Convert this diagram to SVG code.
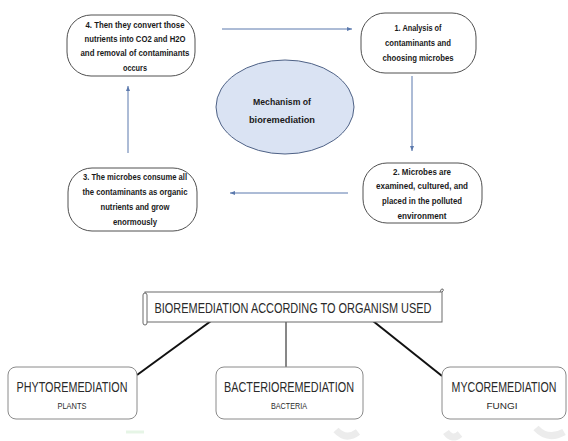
<svg xmlns="http://www.w3.org/2000/svg" width="568" height="441" viewBox="0 0 568 441">
<defs>
<style>
.step{fill:#fff;stroke:#505050;stroke-width:1}
.st{font-family:"Liberation Sans",Arial,sans-serif;font-weight:bold;font-size:9.5px;fill:#1a1a1a;text-anchor:middle}
.flow{stroke:#5b79ad;stroke-width:1;fill:none}
.box{fill:#fff;stroke:#8a8a8a;stroke-width:1}
.bt{font-family:"Liberation Sans",Arial,sans-serif;font-size:14px;fill:#2a2a2a;text-anchor:middle}
.bs{font-family:"Liberation Sans",Arial,sans-serif;font-size:8.5px;fill:#2a2a2a;text-anchor:middle}
.tree{stroke:#111;fill:none}
.wm{stroke:#ececec;stroke-width:7;fill:none}
</style>
<marker id="ah" viewBox="0 0 10 10" refX="10" refY="5" markerWidth="5" markerHeight="5" orient="auto" markerUnits="userSpaceOnUse">
<path d="M0,1 L10,5 L0,9 Z" fill="#5b79ad"/>
</marker>
</defs>
<rect width="568" height="441" fill="#fff"/>

<g id="watermark">
<path class="wm" d="M336,430 Q346,441 358,432"/>
<path class="wm" d="M446,432 Q452,441 460,434"/>
<path class="wm" d="M536,428 Q548,441 564,432"/>
<path d="M126,432 L144,432" stroke="#e6f5e6" stroke-width="3"/>
</g>

<g id="connectors">
<line class="flow" x1="222" y1="29" x2="352" y2="29" marker-end="url(#ah)"/>
<line class="flow" x1="412" y1="76" x2="412" y2="151" marker-end="url(#ah)"/>
<line class="flow" x1="348" y1="193" x2="230" y2="193" marker-end="url(#ah)"/>
<line class="flow" x1="128" y1="153" x2="128" y2="86" marker-end="url(#ah)"/>
<line class="tree" stroke-width="2" x1="211" y1="321" x2="137" y2="375"/>
<line class="tree" stroke-width="1" x1="286" y1="322" x2="286" y2="367"/>
<line class="tree" stroke-width="2" x1="373" y1="321" x2="442" y2="376"/>
</g>

<g id="center">
<ellipse cx="285" cy="107" rx="69" ry="47" fill="#dae3f3" stroke="#4f6286" stroke-width="1"/>
<text class="st" font-size="10.5" x="282" y="105" textLength="58" lengthAdjust="spacingAndGlyphs">Mechanism of</text>
<text class="st" font-size="10.5" x="282" y="123" textLength="66" lengthAdjust="spacingAndGlyphs">bioremediation</text>
</g>

<g id="step4">
<rect class="step" x="67" y="15" width="128" height="61" rx="24"/>
<text class="st" x="135" y="28" textLength="99" lengthAdjust="spacingAndGlyphs">4. Then they convert those</text>
<text class="st" x="135" y="42" textLength="101" lengthAdjust="spacingAndGlyphs">nutrients into CO2 and H2O</text>
<text class="st" x="135" y="56" textLength="109" lengthAdjust="spacingAndGlyphs">and removal of contaminants</text>
<text class="st" x="135" y="71" textLength="24" lengthAdjust="spacingAndGlyphs">occurs</text>
</g>

<g id="step1">
<rect class="step" x="361" y="13" width="115" height="60" rx="24"/>
<text class="st" x="418" y="31" textLength="47" lengthAdjust="spacingAndGlyphs">1. Analysis of</text>
<text class="st" x="418" y="46" textLength="66" lengthAdjust="spacingAndGlyphs">contaminants and</text>
<text class="st" x="418" y="61" textLength="71" lengthAdjust="spacingAndGlyphs">choosing microbes</text>
</g>

<g id="step2">
<rect class="step" x="363" y="163" width="119" height="60" rx="24"/>
<text class="st" x="422" y="175" textLength="58" lengthAdjust="spacingAndGlyphs">2. Microbes are</text>
<text class="st" x="422" y="189" textLength="92" lengthAdjust="spacingAndGlyphs">examined, cultured, and</text>
<text class="st" x="422" y="204" textLength="80" lengthAdjust="spacingAndGlyphs">placed in the polluted</text>
<text class="st" x="422" y="219" textLength="49" lengthAdjust="spacingAndGlyphs">environment</text>
</g>

<g id="step3">
<rect class="step" x="68" y="168" width="129" height="63" rx="24"/>
<text class="st" x="135" y="180" textLength="104" lengthAdjust="spacingAndGlyphs">3. The microbes consume all</text>
<text class="st" x="135" y="195" textLength="105" lengthAdjust="spacingAndGlyphs">the contaminants as organic</text>
<text class="st" x="135" y="210" textLength="69" lengthAdjust="spacingAndGlyphs">nutrients and grow</text>
<text class="st" x="135" y="225" textLength="44" lengthAdjust="spacingAndGlyphs">enormously</text>
</g>

<g id="banner">
<rect x="145" y="292" width="297" height="30" fill="#fff" stroke="#6a6a6a" stroke-width="1"/>
<rect x="143" y="293" width="4" height="32" rx="2" fill="#fff" stroke="#6a6a6a" stroke-width="1"/>
<path d="M440,292 Q441,288 443,289 Q444,291 442,292" fill="none" stroke="#6a6a6a" stroke-width="1"/>
<text class="bt" x="293" y="313" textLength="277" lengthAdjust="spacingAndGlyphs">BIOREMEDIATION ACCORDING TO ORGANISM USED</text>
</g>

<g id="phyto">
<rect class="box" x="8" y="367" width="129" height="52" rx="8"/>
<text class="bt" x="72" y="392" textLength="111" lengthAdjust="spacingAndGlyphs">PHYTOREMEDIATION</text>
<text class="bs" x="72" y="409" textLength="29" lengthAdjust="spacingAndGlyphs">PLANTS</text>
</g>

<g id="bacterio">
<rect class="box" x="216" y="367" width="147" height="52" rx="8"/>
<text class="bt" x="289" y="392" textLength="130" lengthAdjust="spacingAndGlyphs">BACTERIOREMEDIATION</text>
<text class="bs" x="289" y="409" textLength="36" lengthAdjust="spacingAndGlyphs">BACTERIA</text>
</g>

<g id="myco">
<rect class="box" x="442" y="367" width="124" height="52" rx="8"/>
<text class="bt" transform="translate(504,392) scale(0.76,1)" x="0" y="0">MYCOREMEDIATION</text>
<text class="bs" x="502" y="409" textLength="31" lengthAdjust="spacingAndGlyphs">FUNGI</text>
</g>
</svg>
